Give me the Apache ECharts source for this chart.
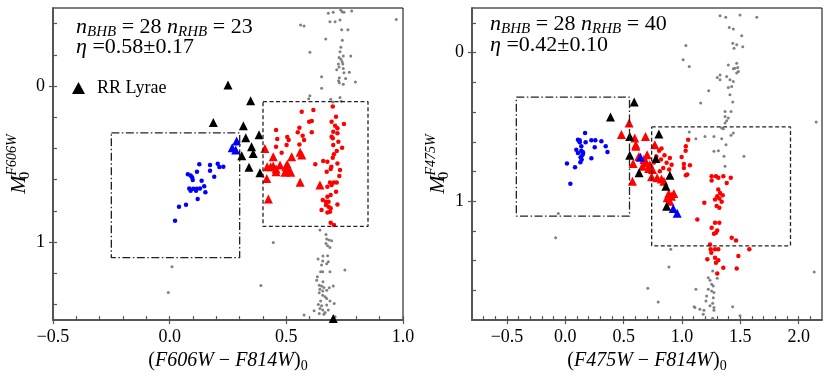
<!DOCTYPE html>
<html lang="en">
<head>
<meta charset="UTF-8">
<title>HB colour-magnitude diagrams</title>
<script src="https://cdn.jsdelivr.net/npm/echarts@6/dist/echarts.min.js"></script>
<style>
    body, html { margin: 0; padding: 0; background: #fff; }
    #main { width: 830px; height: 378px; }
</style>
</head>
<body>
<div id="main"></div>
<script>
// ---------- left panel: (F606W - F814W)_0 vs M0(F606W) ----------
var grayL = [[0.680,-0.466],[0.701,-0.472],[0.733,-0.487],[0.739,-0.476],[0.747,-0.472],[0.780,-0.481],[0.687,-0.412],[0.709,-0.412],[0.730,-0.423],[0.561,-0.391],[0.576,-0.385],[0.971,-0.427],[0.737,-0.361],[0.764,-0.361],[0.669,-0.301],[0.740,-0.293],[0.601,-0.216],[0.734,-0.248],[0.730,-0.220],[0.744,-0.192],[0.776,-0.192],[0.726,-0.182],[0.734,-0.171],[0.739,-0.156],[0.723,-0.141],[0.742,-0.141],[0.726,-0.122],[0.744,-0.113],[0.716,-0.105],[0.747,-0.085],[0.770,-0.088],[0.651,-0.060],[0.727,-0.053],[0.754,-0.049],[0.724,-0.034],[0.727,-0.021],[0.796,-0.026],[0.744,-0.011],[0.651,0.015],[0.601,0.062],[0.596,0.081],[0.730,0.073],[0.690,0.085],[0.700,0.102],[0.735,0.097],
    [0.644,0.923],[0.670,0.951],[0.673,0.981],[0.683,0.987],[0.694,0.991],[0.670,1.009],[0.677,1.024],[0.687,1.034],[0.444,1.002],[0.657,1.090],[0.677,1.088],[0.636,1.109],[0.656,1.122],[0.680,1.126],[0.673,1.139],[0.651,1.147],[0.010,1.158],[0.647,1.190],[0.656,1.190],[0.687,1.190],[0.751,1.179],[0.633,1.222],[0.630,1.244],[0.657,1.254],[0.641,1.276],[0.651,1.282],[0.661,1.291],[0.684,1.293],[0.701,1.282],[0.644,1.303],[0.656,1.314],[0.673,1.308],[0.641,1.325],[0.656,1.340],[0.666,1.350],[0.673,1.361],[0.647,1.378],[0.687,1.378],[0.705,1.393],[0.637,1.400],[0.651,1.408],[0.673,1.404],[0.619,1.440],[0.644,1.425],[0.656,1.436],[0.680,1.436],[0.666,1.451],[0.641,1.457],[0.576,1.468],[0.661,1.462],[0.709,1.479],[0.391,1.278],[-0.006,1.323]];
var blueDotL = [[0.127,0.502],[0.173,0.506],[0.206,0.498],[0.213,0.519],[0.230,0.517],[0.078,0.566],[0.090,0.573],[0.096,0.585],[0.117,0.549],[0.173,0.543],[0.191,0.581],[0.099,0.603],[0.137,0.607],[0.084,0.656],[0.090,0.671],[0.101,0.658],[0.113,0.671],[0.116,0.658],[0.130,0.656],[0.148,0.643],[0.153,0.681],[0.120,0.724],[0.070,0.761],[0.040,0.774],[0.023,0.863]];
var blueTriL = [[0.287,0.353],[0.268,0.396],[0.283,0.410]];
var blackTriL = [[0.250,-0.006],[0.347,0.094],[0.187,0.233],[0.316,0.254],[0.326,0.331],[0.383,0.312],[0.351,0.389],[0.358,0.432],[0.309,0.447],[0.340,0.521],[0.387,0.556],[0.701,1.489]];
var redTriL = [[0.408,0.400],[0.444,0.453],[0.523,0.453],[0.559,0.425],[0.566,0.442],[0.418,0.517],[0.433,0.517],[0.444,0.513],[0.456,0.532],[0.473,0.506],[0.456,0.549],[0.498,0.517],[0.508,0.538],[0.519,0.553],[0.494,0.553],[0.504,0.502],[0.416,0.592],[0.559,0.617],[0.644,0.635],[0.423,0.724]];
var redDotL = [[0.566,0.165],[0.616,0.154],[0.699,0.132],[0.609,0.224],[0.598,0.229],[0.556,0.267],[0.549,0.297],[0.570,0.318],[0.609,0.297],[0.456,0.282],[0.461,0.340],[0.504,0.327],[0.510,0.346],[0.501,0.378],[0.456,0.389],[0.480,0.427],[0.576,0.346],[0.556,0.374],[0.713,0.197],[0.709,0.254],[0.694,0.229],[0.719,0.271],[0.747,0.244],[0.701,0.293],[0.719,0.303],[0.694,0.325],[0.699,0.335],[0.723,0.357],[0.701,0.378],[0.739,0.395],[0.716,0.417],[0.704,0.438],[0.699,0.459],[0.658,0.481],[0.624,0.502],[0.676,0.485],[0.693,0.517],[0.719,0.496],[0.690,0.532],[0.673,0.549],[0.730,0.538],[0.727,0.577],[0.687,0.618],[0.704,0.618],[0.716,0.618],[0.694,0.635],[0.676,0.645],[0.713,0.677],[0.690,0.699],[0.676,0.709],[0.656,0.731],[0.670,0.741],[0.681,0.741],[0.719,0.759],[0.670,0.763],[0.681,0.773],[0.690,0.784],[0.651,0.795],[0.676,0.810],[0.687,0.806],[0.690,0.876],[0.704,0.891]];
var boxBlueL = [-0.25, 0.30, 0.30, 1.10];   // x0, x1, y0, y1 (dash-dot)
var boxRedL = [0.40, 0.85, 0.10, 0.90];     // dashed
var xMajorL = [-0.5, 0, 0.5, 1.0];
var xMinorL = [-0.5,-0.4,-0.3,-0.2,-0.1,0,0.1,0.2,0.3,0.4,0.5,0.6,0.7,0.8,0.9,1.0];
var yMajorL = [0, 1];
var yMinorL = [-0.4,-0.2,0,0.2,0.4,0.6,0.8,1.0,1.2,1.4];

// ---------- right panel: (F475W - F814W)_0 vs M0(F475W) ----------
var grayR = [[1.326,-0.248],[1.375,-0.237],[1.497,-0.253],[1.641,-0.237],[1.405,-0.168],[1.440,-0.159],[1.512,-0.114],[1.435,-0.063],[1.469,-0.052],[1.521,-0.040],[1.446,-0.029],[1.033,-0.047],[1.010,0.049],[1.062,0.094],[1.397,0.083],[1.469,0.071],[1.454,0.105],[1.440,0.109],[1.478,0.101],[1.483,0.128],[1.469,0.138],[1.326,0.150],[1.302,0.168],[1.383,0.161],[1.411,0.183],[1.440,0.195],[1.326,0.183],[1.397,0.235],[1.426,0.228],[1.229,0.257],[1.411,0.284],[1.160,0.340],[1.435,0.333],[1.369,0.396],[1.420,0.396],[1.369,0.430],[1.397,0.440],[1.383,0.458],[1.369,0.474],[1.340,0.507],[2.150,0.467],[1.440,0.541],[1.354,0.512],
    [1.062,0.534],[1.119,0.579],[1.197,0.564],[1.274,0.564],[1.340,0.579],[1.420,0.557],[1.377,0.620],[1.274,0.664],[1.312,0.660],[1.360,0.698],[1.531,0.698],[1.369,0.765],[0.904,1.324],[0.888,1.443],[2.133,1.477],[0.707,1.586],[0.796,1.678],[1.119,1.593],[-0.083,1.246],[-0.060,1.083],
    [1.263,1.470],[1.225,1.515],[1.240,1.532],[1.302,1.518],[1.254,1.559],[1.268,1.571],[1.225,1.593],[1.254,1.604],[1.274,1.615],[1.211,1.638],[1.268,1.649],[1.205,1.671],[1.263,1.686],[1.240,1.704],[1.274,1.716],[1.153,1.727],[1.188,1.734],[1.104,1.711],[1.274,1.734],[1.182,1.760],[1.263,1.787],[1.434,1.711],[1.497,1.771],[1.111,1.716]];
var blueDotR = [[0.169,0.541],[0.108,0.586],[0.123,0.590],[0.174,0.604],[0.223,0.590],[0.257,0.590],[0.309,0.597],[0.346,0.631],[0.361,0.669],[0.252,0.637],[0.137,0.631],[0.094,0.653],[0.151,0.671],[0.108,0.675],[0.146,0.689],[0.131,0.704],[0.140,0.720],[0.129,0.738],[0.223,0.711],[0.014,0.747],[0.083,0.772],[0.043,0.883],[0.123,0.604],[0.137,0.660],[0.151,0.680]];
var blueTriR = [[0.644,0.705],[0.925,1.049],[0.959,1.081]];
var blackTriR = [[0.590,0.333],[0.387,0.434],[0.552,0.564],[0.802,0.548],[0.552,0.691],[0.776,0.713],[0.632,0.809],[0.896,0.825],[0.862,0.899],[0.868,1.034]];
var redTriR = [[0.547,0.474],[0.481,0.552],[0.595,0.575],[0.687,0.564],[0.604,0.620],[0.767,0.620],[0.701,0.687],[0.673,0.720],[0.696,0.742],[0.581,0.747],[0.661,0.765],[0.724,0.754],[0.747,0.787],[0.739,0.836],[0.575,0.866],[0.787,0.843],[0.824,0.850],[0.845,0.866],[0.887,0.948],[0.910,0.966],[0.873,0.977],[0.930,0.948],[0.896,1.000],[0.604,0.631],[0.630,0.700],[0.715,0.780]];
var redDotR = [[0.824,0.646],[0.804,0.660],[0.896,0.709],[0.911,0.754],[0.868,0.742],[0.839,0.776],[0.810,0.799],[0.890,0.787],[1.053,0.586],[1.033,0.631],[1.031,0.660],[0.997,0.702],[1.016,0.749],[1.016,0.776],[1.068,0.758],[1.045,0.821],[1.033,0.825],[1.254,0.832],[1.291,0.832],[1.311,0.843],[1.354,0.832],[1.418,0.843],[1.383,0.877],[1.254,0.861],[1.311,0.921],[1.326,0.944],[1.302,0.966],[1.349,0.960],[1.320,0.982],[1.283,0.989],[1.340,1.004],[1.191,1.011],[1.297,1.033],[1.320,1.044],[1.131,1.123],[1.283,1.145],[1.320,1.145],[1.254,1.179],[1.302,1.197],[1.291,1.212],[1.274,1.219],[1.426,1.246],[1.463,1.264],[1.240,1.291],[1.246,1.324],[1.283,1.324],[1.311,1.324],[1.251,1.346],[1.577,1.324],[1.283,1.380],[1.311,1.398],[1.291,1.414],[1.217,1.391],[1.483,1.369],[1.354,1.447],[1.469,1.452],[1.302,1.487],[0.780,0.700],[0.760,0.740],[0.820,0.720],[0.850,0.690]];
var boxBlueR = [-0.42, 0.55, 0.30, 1.10];
var boxRedR = [0.74, 1.93, 0.50, 1.30];
var xMajorR = [-0.5, 0, 0.5, 1.0, 1.5, 2.0];
var xMinorR = [-0.7,-0.6,-0.5,-0.4,-0.3,-0.2,-0.1,0,0.1,0.2,0.3,0.4,0.5,0.6,0.7,0.8,0.9,1.0,1.1,1.2,1.3,1.4,1.5,1.6,1.7,1.8,1.9,2.0,2.1];
var yMajorR = [0, 1];
var yMinorR = [-0.2,0,0.2,0.4,0.6,0.8,1.0,1.2,1.4,1.6];

var FONT = 'Liberation Serif';
var AXIS_GRAY = '#555';

function fmtX(v) {
    return (v < 0 ? '\u2212' : '') + Math.abs(v).toFixed(1);
}

function rect(b) {
    return [[b[0], b[2]], [b[1], b[2]], [b[1], b[3]], [b[0], b[3]], [b[0], b[2]]];
}

var nameRich = {
    t: { fontFamily: FONT, fontSize: 20, color: '#000' },
    i: { fontFamily: FONT, fontSize: 20, fontStyle: 'italic', color: '#000' },
    m: { fontFamily: FONT, fontSize: 22, fontStyle: 'italic', color: '#000' },
    s: { fontFamily: FONT, fontSize: 14, color: '#000', padding: [10, 0, 0, 0] },
    s0: { fontFamily: FONT, fontSize: 15, color: '#000', padding: [11, 0, 0, 0], width: 0 },
    p: { fontFamily: FONT, fontSize: 14, fontStyle: 'italic', color: '#000', padding: [0, 0, 13, 0] }
};

function xAxes(gi, min, max, major, minor, name) {
    return [{
        gridIndex: gi, type: 'value', min: min, max: max, position: 'bottom',
        name: name, nameLocation: 'middle', nameGap: 26,
        nameTextStyle: { rich: nameRich },
        axisLine: { onZero: false, lineStyle: { color: AXIS_GRAY, width: 2 } },
        axisTick: { customValues: major, inside: false, length: 4, lineStyle: { color: AXIS_GRAY, width: 1.2 } },
        axisLabel: { customValues: major, formatter: fmtX, fontFamily: FONT, fontSize: 18, color: '#000', margin: 8 },
        splitLine: { show: false }
    }, {
        gridIndex: gi, type: 'value', min: min, max: max, position: 'bottom',
        axisLine: { show: false, onZero: false },
        axisTick: { customValues: minor, inside: true, length: 4, lineStyle: { color: AXIS_GRAY, width: 1.2 } },
        axisLabel: { show: false },
        splitLine: { show: false }
    }];
}

function yAxes(gi, min, max, major, minor, name) {
    return [{
        gridIndex: gi, type: 'value', min: min, max: max, inverse: true, position: 'left',
        name: name, nameLocation: 'middle', nameGap: 20, nameRotate: 90,
        nameTextStyle: { rich: nameRich },
        axisLine: { onZero: false, lineStyle: { color: AXIS_GRAY, width: 2 } },
        axisTick: { customValues: major, inside: false, length: 4, lineStyle: { color: AXIS_GRAY, width: 1.2 } },
        axisLabel: { customValues: major, formatter: function (v) { return String(v); }, fontFamily: FONT, fontSize: 18, color: '#000', margin: 8 },
        splitLine: { show: false }
    }, {
        gridIndex: gi, type: 'value', min: min, max: max, inverse: true, position: 'left',
        axisLine: { show: false, onZero: false },
        axisTick: { customValues: minor, inside: true, length: 4, lineStyle: { color: AXIS_GRAY, width: 1.2 } },
        axisLabel: { show: false },
        splitLine: { show: false }
    }];
}

function pts(name, data, ai, symbol, size, color) {
    return {
        name: name, type: 'scatter', xAxisIndex: ai, yAxisIndex: ai,
        data: data, symbol: symbol, symbolSize: size,
        itemStyle: { color: color, opacity: 1 }, silent: true
    };
}

function box(data, ai, dash) {
    return {
        type: 'line', xAxisIndex: ai, yAxisIndex: ai, data: rect(data),
        symbol: 'none', silent: true,
        lineStyle: { color: '#222', width: 1.3, type: dash }
    };
}

function panelSeries(ai, gray, blueDot, redDot, redTri, blueTri, blackTri, boxBlue, boxRed) {
    return [
        box(boxBlue, ai, [8, 2.5, 1.5, 2.5]),
        box(boxRed, ai, [4, 2.5]),
        pts('gray', gray, ai, 'circle', 3, '#808080'),
        pts('blue', blueDot, ai, 'circle', 4.5, '#0000ff'),
        pts('red', redDot, ai, 'circle', 4.5, '#ff0000'),
        pts('redRR', redTri, ai, 'triangle', 9, '#ff0000'),
        pts('blueRR', blueTri, ai, 'triangle', 9, '#0000ff'),
        pts('RR Lyrae', blackTri, ai, 'triangle', 9, '#000000')
    ];
}

function note(x, y, text) {
    return {
        type: 'text', left: x, top: y, silent: true,
        style: {
            text: text,
            rich: {
                t: { fontFamily: FONT, fontSize: 22, color: '#000', lineHeight: 24 },
                i: { fontFamily: FONT, fontSize: 22, fontStyle: 'italic', color: '#000', lineHeight: 24 },
                s: { fontFamily: FONT, fontSize: 15, fontStyle: 'italic', color: '#000', lineHeight: 24, padding: [10, 0, 0, 0] }
            }
        }
    };
}

var myChart = echarts.init(document.getElementById('main'));
var option = {
    animation: false,
    backgroundColor: '#fff',
    grid: [
        { left: 53, top: 8, width: 350, height: 313, show: true, borderColor: '#000', borderWidth: 1 },
        { left: 472, top: 8, width: 350, height: 313, show: true, borderColor: '#000', borderWidth: 1 }
    ],
    xAxis: xAxes(0, -0.5, 1.0, xMajorL, xMinorL, '{t|(}{i|F606W}{t| \u2212 }{i|F814W}{t|)}{s|0}')
        .concat(xAxes(1, -0.8, 2.2, xMajorR, xMinorR, '{t|(}{i|F475W}{t| \u2212 }{i|F814W}{t|)}{s|0}')),
    yAxis: yAxes(0, -0.5, 1.5, yMajorL, yMinorL, '{m|M}{s0|0}{p|F606W}')
        .concat(yAxes(1, -0.3, 1.8, yMajorR, yMinorR, '{m|M}{s0|0}{p|F475W}')),
    legend: {
        data: [{ name: 'RR Lyrae', icon: 'triangle' }],
        left: 67, top: 74, itemWidth: 13, itemHeight: 12,
        textStyle: { fontFamily: FONT, fontSize: 18, color: '#000', padding: [0, 0, 0, 7] },
        selectedMode: false
    },
    graphic: [
        note(76, 15, '{i|n}{s|BHB}{t| = 28 }{i|n}{s|RHB}{t| = 23}'),
        note(76, 36, '{i|\u03b7}{t| =0.58\u00b10.17}'),
        note(490, 12, '{i|n}{s|BHB}{t| = 28 }{i|n}{s|RHB}{t| = 40}'),
        note(490, 34, '{i|\u03b7}{t| =0.42\u00b10.10}')
    ],
    series: panelSeries(0, grayL, blueDotL, redDotL, redTriL, blueTriL, blackTriL, boxBlueL, boxRedL)
        .concat(panelSeries(2, grayR, blueDotR, redDotR, redTriR, blueTriR, blackTriR, boxBlueR, boxRedR))
};
myChart.setOption(option);
</script>
</body>
</html>
